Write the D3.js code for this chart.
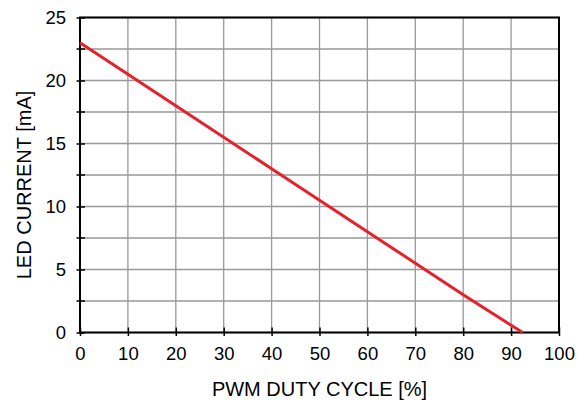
<!DOCTYPE html>
<html>
<head>
<meta charset="utf-8">
<script src="https://cdn.jsdelivr.net/npm/d3@7"></script>
<style>
  body { margin: 0; background: #fff; }
  text { font-family: "Liberation Sans", Arial, sans-serif; fill: #000; }
</style>
</head>
<body>
<div id="chart"></div>
<script>
// Values
var dutyCycle = [0, 20, 40, 60, 80, 92.4];     // PWM duty cycle [%]
var ledCurrent = [23, 18, 13, 8, 3, 0];        // LED current [mA]
var xTicks = [0, 10, 20, 30, 40, 50, 60, 70, 80, 90, 100];
var yTicks = [0, 5, 10, 15, 20, 25];
var yMinorTicks = [2.5, 7.5, 12.5, 17.5, 22.5];

var margin = { top: 17.5, right: 28, bottom: 69.5, left: 80 },
    width = 587 - margin.left - margin.right,
    height = 402 - margin.top - margin.bottom;

var svg = d3.select("#chart")
    .append("svg")
    .attr("width", 587)
    .attr("height", 402);
var g = svg.append("g")
    .attr("transform", "translate(" + margin.left + "," + margin.top + ")");

var xScale = d3.scaleLinear().domain([0, 100]).range([0, width]);
var yScale = d3.scaleLinear().domain([0, 25]).range([height, 0]);

// Grid lines
var gridColor = "#999";
g.append("g").selectAll("line")
    .data(xTicks)
    .enter().append("line")
    .attr("x1", function (d) { return xScale(d); })
    .attr("x2", function (d) { return xScale(d); })
    .attr("y1", 0).attr("y2", height)
    .attr("stroke", gridColor).attr("stroke-width", 1.3);
g.append("g").selectAll("line")
    .data(yTicks.concat(yMinorTicks))
    .enter().append("line")
    .attr("y1", function (d) { return yScale(d); })
    .attr("y2", function (d) { return yScale(d); })
    .attr("x1", 0).attr("x2", width)
    .attr("stroke", gridColor).attr("stroke-width", 1.3);

// Axes: ticks cross the frame (inside 5, outside 3)
var xAxis = d3.axisBottom(xScale).tickValues(xTicks).tickSize(0).tickPadding(14);
var xg = g.append("g")
    .attr("transform", "translate(0," + height + ")")
    .call(xAxis);
xg.select(".domain").remove();
xg.selectAll("text").style("font-size", "18.5px").style("font-family", "Liberation Sans, Arial, sans-serif");
xg.selectAll(".tick").append("line")
    .attr("y1", -5).attr("y2", 3.5)
    .attr("stroke", "#000").attr("stroke-width", 1.5);

var yAxis = d3.axisLeft(yScale).tickValues(yTicks).tickSize(0).tickPadding(14);
var yg = g.append("g").call(yAxis);
yg.select(".domain").remove();
yg.selectAll("text").style("font-size", "18.5px").style("font-family", "Liberation Sans, Arial, sans-serif");
yg.selectAll(".tick").append("line")
    .attr("x1", -3.5).attr("x2", 5)
    .attr("stroke", "#000").attr("stroke-width", 1.5);
g.append("g").selectAll("line")
    .data(yMinorTicks)
    .enter().append("line")
    .attr("y1", function (d) { return yScale(d); })
    .attr("y2", function (d) { return yScale(d); })
    .attr("x1", -3.5).attr("x2", 5)
    .attr("stroke", "#000").attr("stroke-width", 1.5);

// Frame
g.append("rect")
    .attr("x", 0).attr("y", 0)
    .attr("width", width).attr("height", height)
    .attr("fill", "none")
    .attr("stroke", "#000")
    .attr("stroke-width", 2);

// Data line
var line = d3.line()
    .x(function (d) { return xScale(d[0]); })
    .y(function (d) { return yScale(d[1]); });
g.append("path")
    .datum(d3.zip(dutyCycle, ledCurrent))
    .attr("fill", "none")
    .attr("stroke", "#e8202a")
    .attr("stroke-width", 3)
    .attr("d", line);

// Axis titles
svg.append("text")
    .attr("x", margin.left + width / 2)
    .attr("y", 396)
    .attr("text-anchor", "middle")
    .style("font-size", "20px")
    .text("PWM DUTY CYCLE [%]");
svg.append("text")
    .attr("transform", "translate(31," + 185 + ") rotate(-90)")
    .attr("text-anchor", "middle")
    .style("font-size", "20px")
    .text("LED CURRENT [mA]");
</script>
</body>
</html>
